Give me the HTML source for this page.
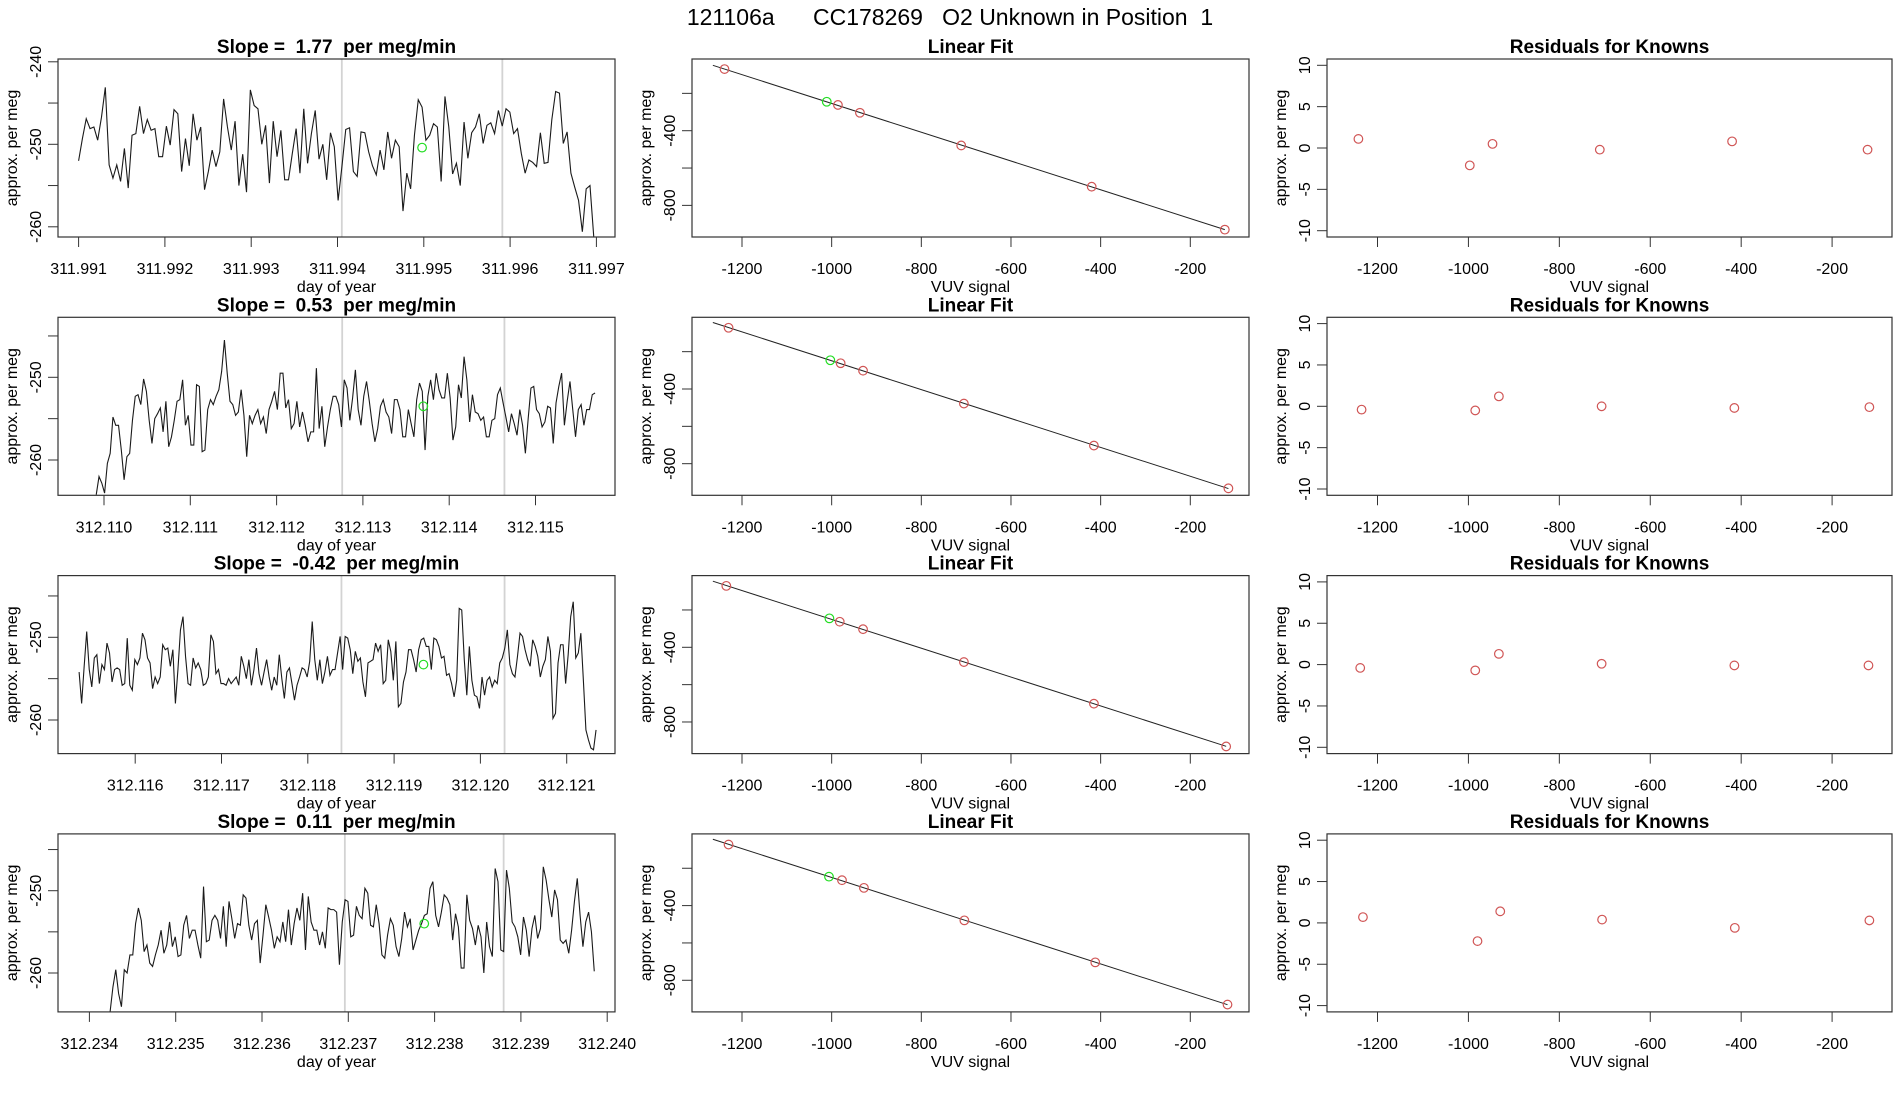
<!DOCTYPE html>
<html><head><meta charset="utf-8"><title>121106a CC178269 O2 Unknown in Position 1</title>
<style>
html,body{margin:0;padding:0;background:#fff;}
svg{display:block;font-family:"Liberation Sans",Arial,sans-serif;}
svg text{white-space:pre;}
</style></head>
<body>
<svg id="fig" width="1900" height="1100" viewBox="0 0 1900 1100" xmlns="http://www.w3.org/2000/svg" xml:space="preserve">
<rect width="1900" height="1100" fill="#fff"/>
<text x="950" y="25" font-size="23" text-anchor="middle" xml:space="preserve" style="white-space:pre">121106a      CC178269   O2 Unknown in Position  1</text>
</svg>
<script>
// ---- time-series data (per meg) ----
const slopeLabels = ["1.77","0.53","-0.42","0.11"];
const tStart = [311.991, 312.10991, 312.11535, 312.23424];
const tEnd = [311.99697, 312.11569, 312.12134, 312.23985];
const firstTick = [311.991, 312.110, 312.116, 312.234];
const tickCount = [7, 6, 6, 7];
const grayLines1 = [311.99405, 311.99591];
const grayLines2 = [312.11276, 312.11464];
const grayLines3 = [312.11839, 312.12028];
const grayLines4 = [312.23696, 312.23880];
const greenT = [311.99498, 312.11370, 312.11934, 312.23788];
const greenV = [-250.4, -253.5, -253.3, -254.0];
const series1 = [-252.0,-249.3,-246.9,-248.1,-247.9,-249.5,-246.7,-243.1,-252.5,-254.1,-252.5,-254.5,-250.5,-255.3,-248.9,-248.7,-245.4,-248.7,-247.0,-248.3,-248.1,-251.5,-251.5,-247.8,-250.1,-245.8,-246.3,-253.3,-249.3,-252.6,-246.3,-249.5,-247.9,-255.5,-253.3,-250.7,-252.7,-250.9,-244.5,-247.9,-250.7,-247.2,-255.0,-251.2,-255.8,-243.4,-245.3,-245.7,-250.0,-247.7,-254.7,-247.2,-251.5,-248.3,-254.3,-254.3,-251.1,-248.1,-253.5,-245.7,-252.3,-248.7,-245.9,-251.8,-250.0,-254.3,-248.6,-250.3,-256.8,-252.7,-248.2,-248.0,-253.3,-253.9,-248.5,-248.6,-250.9,-252.6,-253.7,-250.7,-253.1,-248.5,-251.7,-249.5,-250.3,-258.1,-253.5,-255.4,-248.9,-244.6,-245.5,-249.5,-248.9,-247.5,-247.9,-254.5,-244.2,-247.9,-253.6,-252.3,-255.0,-247.3,-251.7,-248.6,-247.9,-246.3,-249.9,-247.7,-247.4,-248.7,-245.9,-247.8,-245.7,-246.1,-248.7,-248.1,-251.1,-253.5,-251.9,-252.2,-252.7,-248.6,-252.3,-252.2,-247.0,-243.6,-243.8,-249.9,-248.5,-253.5,-255.2,-256.8,-260.6,-255.4,-255.0,-261.3];
const series2 = [-264.2,-262.0,-262.8,-264.0,-260.4,-259.2,-254.8,-255.8,-255.8,-258.8,-262.4,-259.6,-259.2,-255.2,-252.3,-252.1,-253.3,-250.2,-251.7,-255.2,-258.0,-255.0,-254.4,-253.7,-256.6,-252.9,-258.4,-257.2,-255.2,-252.9,-252.7,-250.3,-255.8,-254.6,-258.2,-258.2,-250.9,-251.1,-259.0,-258.8,-253.9,-252.7,-253.3,-252.3,-251.5,-249.3,-245.5,-249.5,-252.9,-253.3,-254.6,-254.2,-251.5,-254.6,-259.6,-254.6,-255.6,-254.6,-253.9,-255.6,-254.8,-256.8,-253.9,-252.9,-251.7,-253.9,-249.5,-249.5,-253.7,-252.7,-256.2,-255.6,-252.9,-256.0,-254.2,-255.8,-257.8,-256.6,-256.6,-248.9,-256.2,-253.5,-258.4,-256.0,-253.9,-252.3,-252.3,-253.3,-256.0,-250.3,-251.3,-255.2,-252.5,-249.1,-253.9,-255.8,-252.3,-250.5,-252.9,-255.6,-257.8,-256.2,-253.5,-252.7,-254.2,-254.8,-256.8,-252.7,-252.7,-253.9,-257.2,-257.2,-253.9,-255.6,-257.2,-252.7,-250.7,-251.7,-258.8,-252.3,-250.3,-252.7,-249.5,-251.5,-252.5,-252.5,-249.5,-252.5,-257.6,-256.0,-250.9,-252.5,-247.5,-250.3,-255.4,-252.1,-254.2,-254.4,-255.2,-254.8,-257.2,-257.2,-255.2,-255.0,-252.1,-251.3,-253.1,-254.8,-256.6,-254.4,-255.6,-257.0,-253.9,-255.8,-259.2,-255.0,-251.3,-251.1,-253.9,-254.4,-256.0,-255.4,-253.5,-253.7,-258.0,-253.1,-251.1,-249.5,-255.8,-252.9,-250.5,-253.9,-257.2,-253.9,-253.3,-255.8,-253.9,-253.9,-252.1,-251.9];
const series3 = [-254.2,-258.0,-253.5,-249.3,-253.9,-256.0,-252.5,-252.1,-255.6,-253.3,-253.9,-250.7,-251.9,-255.4,-253.9,-253.7,-253.9,-255.8,-255.6,-250.1,-255.8,-256.4,-252.7,-253.3,-252.5,-249.5,-250.3,-252.5,-253.1,-256.2,-254.8,-255.6,-254.8,-250.9,-251.5,-251.3,-253.5,-251.5,-258.0,-253.9,-249.1,-247.5,-252.3,-255.6,-255.8,-252.5,-253.7,-253.1,-253.9,-255.8,-255.6,-254.8,-249.7,-250.5,-254.4,-253.9,-255.6,-255.6,-255.8,-255.0,-255.6,-255.2,-254.8,-255.8,-252.3,-253.5,-255.0,-252.7,-255.8,-253.9,-251.3,-254.4,-255.8,-254.2,-252.7,-254.8,-256.4,-254.8,-255.8,-252.1,-255.0,-257.4,-254.2,-253.7,-255.6,-257.6,-255.8,-254.8,-253.7,-253.9,-254.8,-252.9,-248.1,-252.7,-255.2,-252.7,-255.6,-254.2,-252.3,-254.6,-253.9,-253.9,-251.9,-249.9,-253.9,-249.9,-250.1,-251.5,-254.4,-251.7,-252.9,-252.5,-255.4,-257.2,-253.1,-252.9,-252.7,-250.7,-251.7,-250.9,-255.6,-255.2,-250.3,-251.7,-255.2,-250.5,-258.4,-258.0,-255.4,-254.2,-251.5,-251.5,-252.7,-254.2,-251.5,-250.3,-250.1,-251.1,-251.1,-253.9,-250.1,-250.3,-251.1,-252.5,-252.3,-254.6,-254.4,-255.6,-257.2,-255.2,-246.5,-246.7,-252.7,-257.0,-251.1,-255.2,-257.0,-257.2,-258.6,-254.8,-257.0,-255.2,-254.8,-256.0,-255.2,-255.6,-253.1,-252.5,-251.3,-249.1,-253.3,-254.4,-254.8,-252.3,-249.5,-249.9,-251.5,-252.7,-253.5,-250.3,-251.1,-252.3,-254.8,-253.5,-252.7,-249.9,-251.7,-259.8,-259.2,-253.1,-250.9,-250.9,-255.6,-252.1,-247.5,-245.7,-252.5,-251.9,-249.5,-255.2,-261.2,-262.4,-263.4,-263.6,-261.2];
const series4 = [-264.7,-261.7,-259.6,-262.5,-264.1,-259.6,-260.0,-257.8,-257.8,-254.0,-252.1,-253.6,-257.4,-256.6,-258.8,-259.2,-257.8,-256.6,-254.8,-257.6,-256.6,-253.8,-256.8,-255.6,-258.0,-257.8,-254.2,-253.0,-255.8,-254.8,-254.8,-256.6,-258.2,-249.5,-256.2,-256.0,-253.6,-253.0,-253.6,-255.8,-251.9,-256.8,-251.3,-253.4,-255.8,-254.0,-254.2,-250.5,-250.9,-254.2,-256.0,-254.0,-253.6,-258.8,-255.4,-251.7,-253.2,-254.8,-257.0,-255.6,-256.2,-253.8,-256.2,-252.3,-256.6,-254.0,-252.1,-253.6,-250.3,-257.2,-250.7,-253.8,-254.8,-254.8,-256.6,-255.0,-257.0,-252.1,-252.3,-252.3,-252.6,-259.0,-253.8,-251.1,-251.3,-255.6,-255.4,-251.9,-253.0,-253.4,-249.7,-250.3,-254.2,-254.4,-251.7,-254.0,-257.8,-258.2,-255.4,-253.4,-254.2,-256.8,-258.0,-255.8,-252.6,-254.4,-253.4,-257.2,-256.0,-254.8,-254.0,-253.0,-252.8,-249.7,-248.9,-253.0,-254.4,-252.6,-250.5,-250.9,-251.7,-256.0,-252.8,-254.4,-259.4,-259.4,-250.5,-253.6,-254.6,-256.6,-254.2,-255.6,-260.0,-253.8,-256.8,-258.0,-247.3,-248.9,-257.2,-257.4,-247.5,-249.7,-253.8,-254.4,-255.6,-257.8,-253.2,-254.8,-258.0,-254.6,-253.0,-255.8,-254.6,-247.1,-248.7,-251.1,-253.2,-249.9,-251.1,-256.0,-256.4,-256.0,-257.6,-254.8,-251.3,-248.5,-253.0,-256.8,-253.8,-252.6,-255.0,-259.8];
// ---- linear fit data ----
const fitX1 = [-1239,-986,-937,-711,-420,-123];
const fitY1 = [-70,-262,-304,-479,-700,-930];
const fitX2 = [-1230,-980,-930,-705,-415,-115];
const fitY2 = [-72,-262,-302,-478,-703,-932];
const fitX3 = [-1235,-982,-930,-705,-415,-120];
const fitY3 = [-71,-263,-303,-479,-702,-931];
const fitX4 = [-1230,-977,-928,-704,-412,-117];
const fitY4 = [-73,-264,-305,-479,-704,-930];
const fitGreenX = [-1011,-1003,-1005,-1006];
const fitGreenY = [-245,-246,-245,-245];
const fitTicksX = [-1200,-1000,-800,-600,-400,-200];
const fitTicksY = [-200,-400,-600,-800];
const fitTickLabelsY = ["","-400","","-800"];
// ---- residuals ----
const resX1 = [-1242,-997,-947,-711,-420,-122];
const resY1 = [1.1,-2.1,0.5,-0.2,0.8,-0.2];
const resX2 = [-1235,-985,-933,-707,-415,-118];
const resY2 = [-0.4,-0.5,1.2,0.0,-0.2,-0.1];
const resX3 = [-1238,-985,-933,-707,-415,-120];
const resY3 = [-0.4,-0.7,1.3,0.1,-0.1,-0.1];
const resX4 = [-1232,-980,-930,-706,-414,-118];
const resY4 = [0.7,-2.2,1.4,0.4,-0.6,0.3];
const resTicksY = [10,5,0,-5,-10];

const NS = "http://www.w3.org/2000/svg";
const svg = document.getElementById("fig");
function mk(tag, attrs, parent){ const e=document.createElementNS(NS,tag); for(const k in attrs) e.setAttribute(k,attrs[k]); (parent||svg).appendChild(e); return e; }
function txt(s, attrs, parent){ const e=mk("text",attrs,parent); e.setAttribute("style","white-space:pre"); e.textContent=s; return e; }

const PITCH = 258.3, BOX_TOP0 = 59, BOX_H = 178;
const COLS = [[58,615],[692,1249],[1327,1892]];
const AX = "#333", FS = 16;
const seriesAll=[series1,series2,series3,series4];
const grayAll=[grayLines1,grayLines2,grayLines3,grayLines4];
const fitXAll=[fitX1,fitX2,fitX3,fitX4], fitYAll=[fitY1,fitY2,fitY3,fitY4];
const resXAll=[resX1,resX2,resX3,resX4], resYAll=[resY1,resY2,resY3,resY4];
const y250Off = [85.3, 60.0, 61.7, 56.8];
const yUnit = [8.25, 8.27, 8.27, 8.23];
const firstTickPx = [78.6, 104, 135.2, 89.4];
const XPER = 86300;

function frame(g, x0, x1, top, name){
  const r=mk("rect",{x:x0,y:top,width:x1-x0,height:BOX_H,fill:"none",stroke:AX,"stroke-width":1.2},g);
  
  
}
function ylab(g, xBox, top){
  const cy=top+BOX_H/2, x=xBox-41;
  const t=txt("approx. per meg",{x:x,y:cy,"font-size":FS,"text-anchor":"middle",transform:`rotate(-90 ${x} ${cy})`},g);
  
  
}
function yTick(g, xBox, y, label){
  mk("line",{x1:xBox-10,x2:xBox,y1:y,y2:y,stroke:AX,"stroke-width":1},g);
  if(label!==""){
    const x=xBox-17;
    const t=txt(label,{x:x,y:y,"font-size":FS,"text-anchor":"middle",transform:`rotate(-90 ${x} ${y})`},g);
    
    
  }
}
function xTick(g, x, bottom, label){
  mk("line",{x1:x,x2:x,y1:bottom,y2:bottom+10,stroke:AX,"stroke-width":1},g);
  const t=txt(label,{x:x,y:bottom+37,"font-size":FS,"text-anchor":"middle"},g);
  
  
}
function xTitle(g, x0, x1, bottom, s){
  const t=txt(s,{x:(x0+x1)/2,y:bottom+55,"font-size":FS,"text-anchor":"middle"},g);
  
  
}
function title(g, x0, x1, top, s){
  const t=txt(s,{x:(x0+x1)/2,y:top-6,"font-size":19,"font-weight":"bold","text-anchor":"middle"},g);
  
  
}

for(let r=0;r<4;r++){
  const top=BOX_TOP0+r*PITCH, bottom=top+BOX_H;
  {
    const [x0,x1]=COLS[0];
    const g=mk("g",{});
    
    
    const xs=t=>firstTickPx[r]+(t-firstTick[r])*XPER;
    const ys=v=>top+y250Off[r]-(v+250)*yUnit[r];
    const cid="clip-ts-"+r;
    const cp=mk("clipPath",{id:cid},g); mk("rect",{x:x0,y:top,width:x1-x0,height:BOX_H},cp);
    grayAll[r].forEach(t=>{
      const l=mk("line",{x1:xs(t),x2:xs(t),y1:top,y2:bottom,stroke:"#d3d3d3","stroke-width":1.8},g);
      
      
    });
    const s=seriesAll[r], n=s.length;
    let d="";
    s.forEach((v,i)=>{ const t=tStart[r]+(tEnd[r]-tStart[r])*i/(n-1); d+=(i?"L":"M")+xs(t).toFixed(2)+","+ys(v).toFixed(2); });
    const p=mk("path",{d:d,fill:"none",stroke:"#1a1a1a","stroke-width":1.1,"clip-path":`url(#${cid})`},g);
    
    
    const c=mk("circle",{cx:xs(greenT[r]),cy:ys(greenV[r]),r:4.3,fill:"none",stroke:"#22dd22","stroke-width":1.2},g);
    
    
    frame(g,x0,x1,top,'plot-frame');
    const yt = r===0?[-240,-245,-250,-255,-260]:[-245,-250,-255,-260];
    yt.forEach(v=>yTick(g,x0,ys(v),(v%10===0)?String(v):""));
    for(let k=0;k<tickCount[r];k++){ const t=firstTick[r]+k*0.001; xTick(g,xs(t),bottom,t.toFixed(3)); }
    ylab(g,x0,top); xTitle(g,x0,x1,bottom,"day of year");
    title(g,x0,x1,top,"Slope =  "+slopeLabels[r]+"  per meg/min");
  }
  {
    const [x0,x1]=COLS[1];
    const g=mk("g",{});
    
    
    const xs=v=>742+(v+1200)*0.4483;
    const ys=v=>top+71.7-(v+400)*0.1867;
    const X=fitXAll[r], Y=fitYAll[r];
    const n=X.length, mx=X.reduce((a,b)=>a+b)/n, my=Y.reduce((a,b)=>a+b)/n;
    let sxy=0,sxx=0; X.forEach((x,i)=>{sxy+=(x-mx)*(Y[i]-my); sxx+=(x-mx)*(x-mx);});
    const b=sxy/sxx, a=my-b*mx;
    const xa=-1265, xb=X[n-1];
    const l=mk("line",{x1:xs(xa),y1:ys(a+b*xa),x2:xs(xb),y2:ys(a+b*xb),stroke:"#222","stroke-width":1},g);
    
    
    X.forEach((x,i)=>{
      const c=mk("circle",{cx:xs(x),cy:ys(Y[i]),r:4.3,fill:"none",stroke:"#d05555","stroke-width":1.2},g);
      
      
    });
    const c=mk("circle",{cx:xs(fitGreenX[r]),cy:ys(fitGreenY[r]),r:4.3,fill:"none",stroke:"#22dd22","stroke-width":1.2},g);
    
    
    frame(g,x0,x1,top,'plot-frame');
    fitTicksY.forEach((v,i)=>yTick(g,x0,ys(v),fitTickLabelsY[i]));
    fitTicksX.forEach(v=>xTick(g,xs(v),bottom,String(v)));
    ylab(g,x0,top); xTitle(g,x0,x1,bottom,"VUV signal");
    title(g,x0,x1,top,"Linear Fit");
  }
  {
    const [x0,x1]=COLS[2];
    const g=mk("g",{});
    
    
    const xs=v=>1377.5+(v+1200)*0.4546;
    const ys=v=>top+89-v*8.27;
    resXAll[r].forEach((x,i)=>{
      const c=mk("circle",{cx:xs(x),cy:ys(resYAll[r][i]),r:4.3,fill:"none",stroke:"#d05555","stroke-width":1.2},g);
      
      
    });
    frame(g,x0,x1,top,'plot-frame');
    resTicksY.forEach(v=>yTick(g,x0,ys(v),String(v)));
    fitTicksX.forEach(v=>xTick(g,xs(v),bottom,String(v)));
    ylab(g,x0,top); xTitle(g,x0,x1,bottom,"VUV signal");
    title(g,x0,x1,top,"Residuals for Knowns");
  }
}
</script>
</body></html>
